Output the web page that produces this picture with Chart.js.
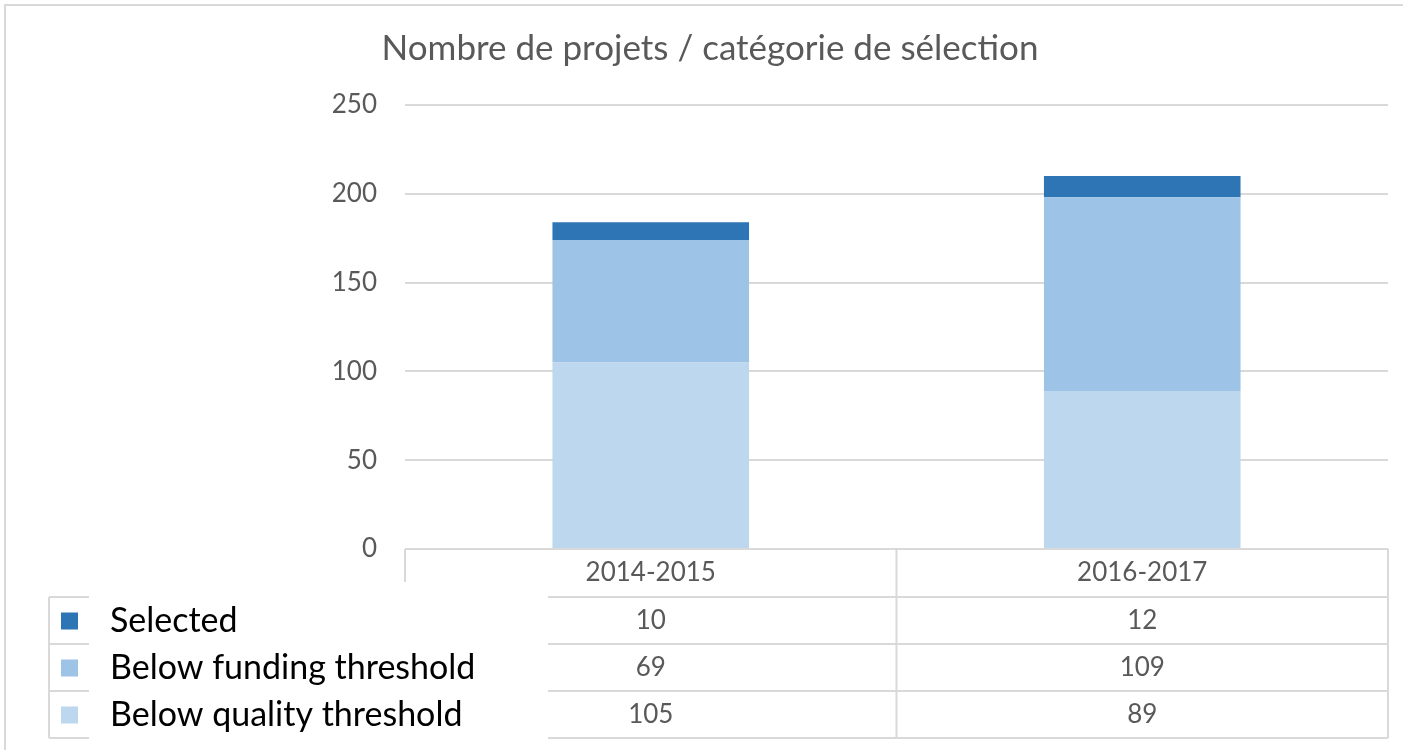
<!DOCTYPE html>
<html>
<head>
<meta charset="utf-8">
<script src="https://cdn.jsdelivr.net/npm/chart.js@4.4.0/dist/chart.umd.min.js"></script>
<style>
  html, body { margin: 0; padding: 0; background: #fff; }
  #wrap { position: relative; width: 1403px; height: 750px; }
</style>
</head>
<body>
<div id="wrap"><canvas id="projets"></canvas></div>
<script>
const titleText = 'Nombre de projets / catégorie de sélection';
const categories = ['2014-2015', '2016-2017'];
const selected = [10, 12];
const belowFunding = [69, 109];
const belowQuality = [105, 89];
const seriesLabels = ['Selected', 'Below funding threshold', 'Below quality threshold'];
const seriesColors = ['#2E75B6', '#9DC3E6', '#BDD7EE'];
const yMax = 250;
const yStep = 50;

const FONT = 'Lato, "Open Sans", sans-serif';
const GREY_TEXT = '#595959';
const LINE = '#d9d9d9';

// title, outer frame, data table and the legend that sits over its row headers
const tablePlugin = {
    id: 'dataTable',
    beforeDraw(chart) {
        const ctx = chart.ctx;
        ctx.save();
        ctx.strokeStyle = LINE;
        ctx.lineWidth = 2;
        ctx.beginPath();
        ctx.moveTo(5, 750);
        ctx.lineTo(5, 5);
        ctx.lineTo(1403, 5);
        ctx.stroke();
        ctx.restore();
    },
    afterDraw(chart) {
        const { ctx, chartArea, scales } = chart;
        const x = scales.x;
        const half = (x.getPixelForValue(1) - x.getPixelForValue(0)) / 2;
        const left = chartArea.left;
        const right = chartArea.right;
        const top = chartArea.bottom;
        const headerH = 48;
        const rowH = 47;
        const tableLeft = 49;
        const boxLeft = 89;
        const boxRight = 548;
        const rows = [selected, belowFunding, belowQuality];

        ctx.save();
        // title
        ctx.fillStyle = GREY_TEXT;
        ctx.font = '35px ' + FONT;
        ctx.textAlign = 'center';
        ctx.textBaseline = 'middle';
        ctx.fillText(titleText, 710, 49);

        ctx.strokeStyle = LINE;
        ctx.lineWidth = 2;
        ctx.beginPath();
        // header row
        ctx.moveTo(left, top);
        ctx.lineTo(left, top + 33);
        const midX = x.getPixelForValue(0) + half;
        ctx.moveTo(midX, top);
        ctx.lineTo(midX, top + headerH + rowH * rows.length);
        ctx.moveTo(right, top);
        ctx.lineTo(right, top + headerH + rowH * rows.length);
        // row lines
        for (let r = 0; r <= rows.length; r++) {
            const yy = top + headerH + rowH * r;
            ctx.moveTo(tableLeft, yy);
            ctx.lineTo(boxLeft, yy);
            ctx.moveTo(boxRight, yy);
            ctx.lineTo(right, yy);
        }
        ctx.moveTo(tableLeft, top + headerH);
        ctx.lineTo(tableLeft, top + headerH + rowH * rows.length);
        ctx.stroke();

        // header labels and values
        ctx.fillStyle = GREY_TEXT;
        ctx.font = '26px ' + FONT;
        categories.forEach((c, i) => {
            const cx = x.getPixelForValue(i);
            ctx.fillText(c, cx, top + headerH / 2);
            rows.forEach((row, r) => {
                ctx.fillText(String(row[i]), cx, top + headerH + rowH * r + rowH / 2);
            });
        });

        // legend keys
        ctx.textAlign = 'left';
        ctx.font = '34px ' + FONT;
        seriesLabels.forEach((label, r) => {
            const cy = top + headerH + rowH * r + rowH / 2;
            ctx.fillStyle = seriesColors[r];
            ctx.fillRect(61, cy - 8, 17, 17);
            ctx.fillStyle = '#000';
            ctx.fillText(label, 110, cy + 1);
        });
        ctx.restore();
    }
};

new Chart(document.getElementById('projets'), {
    type: 'bar',
    data: {
        labels: categories,
        datasets: [
            { label: seriesLabels[2], data: belowQuality, backgroundColor: seriesColors[2] },
            { label: seriesLabels[1], data: belowFunding, backgroundColor: seriesColors[1] },
            { label: seriesLabels[0], data: selected, backgroundColor: seriesColors[0] }
        ]
    },
    options: {
        responsive: true,
        maintainAspectRatio: false,
        animation: false,
        layout: { padding: { left: 0, right: 15, top: 105, bottom: 201 } },
        datasets: { bar: { barPercentage: 0.4, categoryPercentage: 1 } },
        plugins: {
            legend: { display: false },
            title: { display: false },
            tooltip: { enabled: false }
        },
        scales: {
            x: { stacked: true, display: false },
            y: {
                stacked: true,
                min: 0,
                max: yMax,
                afterFit(scale) { scale.width = 405; },
                border: { display: false },
                grid: { color: LINE, lineWidth: 2, drawTicks: false },
                ticks: {
                    stepSize: yStep,
                    padding: 28,
                    color: GREY_TEXT,
                    font: { family: FONT, size: 26 }
                }
            }
        }
    },
    plugins: [tablePlugin]
});
</script>
</body>
</html>
